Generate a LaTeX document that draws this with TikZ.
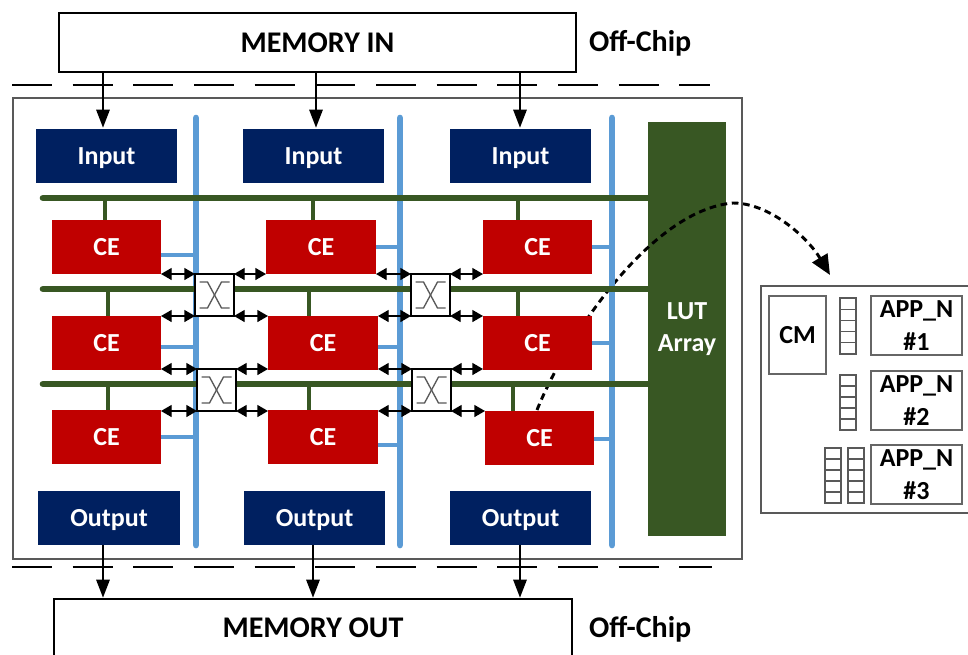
\documentclass[tikz,border=0pt]{standalone}
\usepackage{fontspec}
\setmainfont{Carlito}
\usetikzlibrary{arrows.meta,positioning}
\definecolor{navy}{HTML}{002060}
\definecolor{cered}{HTML}{C00000}
\definecolor{lutgreen}{HTML}{385723}
\definecolor{busblue}{HTML}{5B9BD5}
\newcommand{\bx}[7]{\node[#6,minimum width={(#4-#2)*0.75pt},minimum height={(#5-#3)*0.75pt}] (#1) at ({(#2+#4)/2},{(#3+#5)/2}) {#7};}
\tikzset{
 x=0.75pt,y=-0.75pt,
 every node/.style={inner sep=0pt,outer sep=0pt,font=\bfseries\fontsize{19.5}{24.5}\selectfont},
 bigfont/.style={font=\bfseries\fontsize{22.5}{26}\selectfont},
 capcentre/.style={text height=12.6pt,text depth=0pt},
 bigcentre/.style={text height=14.5pt,text depth=0pt},
 membox/.style={draw=black,line width=1.7pt,fill=white},
 iobox/.style={fill=navy,text=white,capcentre},
 cebox/.style={fill=cered,text=white,capcentre},
 lutbox/.style={fill=lutgreen,text=white,align=center},
 whitebox/.style={draw=black!60,line width=0.9pt,fill=white,align=center},
 swbox/.style={draw=black,line width=1pt,fill=white},
 cellbox/.style={draw=black!65,line width=0.8pt,fill=white},
 blubus/.style={draw=busblue,line width=5pt,line cap=round},
 blustub/.style={draw=busblue,line width=3pt},
 grnbus/.style={draw=lutgreen,line width=5pt,line cap=round},
 grnstub/.style={draw=lutgreen,line width=3.5pt},
 memarrow/.style={draw=black,line width=1.5pt,-{Stealth[inset=0pt,length=13.5pt,width=10pt]},shorten >=1pt},
 dbl/.style={draw=black,line width=1pt,{Stealth[inset=0pt,length=8pt,width=9pt]}-{Stealth[inset=0pt,length=8pt,width=9pt]}},
 chipline/.style={draw=black,line width=1.5pt,dash pattern=on 30pt off 15.5pt},
 offlabel/.style={anchor=west,text=black,bigfont},
 curvearrow/.style={draw=black,line width=2.2pt,dash pattern=on 5pt off 3.5pt,-{Stealth[inset=0pt,length=15pt,width=13pt]}},
}
\newcommand{\stackcells}[5]{%
 \foreach \k in {0,...,4}{\node[cellbox,minimum width={(#3-#2)*0.75pt},minimum height={(#5-#4)*0.15pt}] (#1-\k) at ({(#2+#3)/2},{#4+(\k+0.5)*(#5-#4)/5}) {};}}
\begin{document}
\begin{tikzpicture}
\useasboundingbox (0,0) rectangle (968,654);
\fill[white] (0,0) rectangle (968,654);
% main box
\bx{chip}{13}{98}{742}{559}{draw=black!65,line width=1pt,fill=white}{}
% memories
\bx{memin}{59}{13}{576}{72}{membox,bigfont,bigcentre}{MEMORY IN}
\bx{memout}{54}{599}{572}{670}{membox}{}
\node[bigfont,bigcentre] at (313,628) (memoutlabel) {MEMORY OUT};
\node[offlabel,bigcentre] (off1) at (589,42) {Off-Chip};
\node[offlabel,bigcentre] (off2) at (589,628) {Off-Chip};
% dashed
\coordinate (d1l) at (12,85); \coordinate (d1r) at (710,85);
\coordinate (d2l) at (12,567); \coordinate (d2r) at (712,567);
\draw[chipline] (d1l) -- (d1r);
\draw[chipline] (d2l) -- (d2r);
% IO
\bx{in1}{36}{129}{177}{183}{iobox}{Input}
\bx{in2}{243}{129}{384}{183}{iobox}{Input}
\bx{in3}{450}{129}{591}{183}{iobox}{Input}
\bx{out1}{38}{491}{180}{545}{iobox}{Output}
\bx{out2}{244}{491}{385}{545}{iobox}{Output}
\bx{out3}{450}{491}{591}{545}{iobox}{Output}
\bx{lut}{648}{122}{726}{536}{lutbox}{LUT\\Array}
% dashed curve, above the LUT array and below the buses and CE boxes
\coordinate (cs) at (537,410);
\coordinate (cm) at (733,203);
\coordinate (ct) at (830,275);
\draw[curvearrow] (cs) .. controls (565,340) and (650,210) .. (cm) .. controls (770,203) and (808,238) .. (ct);
% CE
\bx{c11}{52}{220}{161}{274}{cebox}{CE}
\bx{c12}{266}{220}{376}{274}{cebox}{CE}
\bx{c13}{483}{220}{592}{274}{cebox}{CE}
\bx{c21}{52}{316}{161}{370}{cebox}{CE}
\bx{c22}{268}{316}{378}{370}{cebox}{CE}
\bx{c23}{483}{316}{592}{370}{cebox}{CE}
\bx{c31}{52}{410}{161}{464}{cebox}{CE}
\bx{c32}{268}{410}{378}{464}{cebox}{CE}
\bx{c33}{485}{411}{594}{465}{cebox}{CE}
% memory arrows
\coordinate (a1) at (103,72); \coordinate (a2) at (316,72); \coordinate (a3) at (520,72);
\draw[memarrow] (a1) -- (a1 |- in1.north);
\draw[memarrow] (a2) -- (a2 |- in2.north);
\draw[memarrow] (a3) -- (a3 |- in3.north);
\coordinate (b1) at (103,559); \coordinate (b2) at (313,559); \coordinate (b3) at (520,559);
\draw[memarrow] (b1 |- out1.south) -- (b1 |- memout.north);
\draw[memarrow] (b2 |- out2.south) -- (b2 |- memout.north);
\draw[memarrow] (b3 |- out3.south) -- (b3 |- memout.north);
% blue buses
\coordinate (bb1) at (196,118); \coordinate (bb2) at (400,118); \coordinate (bb3) at (612,118);
\draw[blubus] (bb1) -- (196,545);
\draw[blubus] (bb2) -- (400,545);
\draw[blubus] (bb3) -- (612,545);
% green buses
\coordinate (g1) at (43,198); \coordinate (g2) at (43,289); \coordinate (g3) at (43,384);
\draw[grnbus] (g1) -- (g1 -| lut.west);
\draw[grnbus] (g2) -- (g2 -| lut.west);
\draw[grnbus] (g3) -- (g3 -| lut.west);
% green taps
\foreach \n/\x/\g in {c11/105/g1,c12/313/g1,c13/518/g1,c21/108/g2,c22/309/g2,c23/518/g2,c31/108/g3,c32/309/g3,c33/513/g3}{
 \draw[grnstub] (\x,0 |- \g) -- (\x,0 |- \n.north);
}
% blue stubs
\foreach \n/\y/\b in {c11/255/bb1,c21/347/bb1,c31/437/bb1,c12/247/bb2,c22/347/bb2,c32/445/bb2,c13/247/bb3,c23/343/bb3,c33/439/bb3}{
 \draw[blustub] (\n.east |- 0,\y) -- (\b |- 0,\y);
}
% switches
\bx{s11}{195}{274}{234}{316}{swbox}{}
\bx{s21}{197}{369}{236}{411}{swbox}{}
\bx{s12}{411}{274}{450}{316}{swbox}{}
\bx{s22}{412}{369}{451}{411}{swbox}{}
\foreach \s in {s11,s21,s12,s22}{
 \draw[black!65,line width=1pt] ([shift={(-15,-13)}]\s.center) -- ++(8,0) -- ++(14,26) -- ++(8,0);
 \draw[black!65,line width=1pt] ([shift={(15,-13)}]\s.center) -- ++(-8,0) -- ++(-14,26) -- ++(-8,0);
}
% double arrows
\foreach \s/\l/\r in {s11/c11/c12,s21/c21/c22,s12/c12/c13,s22/c22/c23}{
 \draw[dbl] (\l.east |- \s.north west) -- (\s.north west);
 \draw[dbl] (\s.north east) -- (\r.west |- \s.north east);
}
\foreach \s/\l/\r in {s11/c21/c22,s21/c31/c32,s12/c22/c23,s22/c32/c33}{
 \draw[dbl] (\l.east |- \s.south west) -- (\s.south west);
 \draw[dbl] (\s.south east) -- (\r.west |- \s.south east);
}
% app panel
\bx{panel}{761}{286}{990}{513}{draw=black!65,line width=1pt,fill=white}{}
\bx{cm}{769}{296}{826}{374}{whitebox,capcentre}{CM}
\bx{app1}{871}{296}{962}{355}{whitebox}{APP\_N\\\#1}
\bx{app2}{871}{371}{962}{430}{whitebox}{APP\_N\\\#2}
\bx{app3}{871}{445}{962}{504}{whitebox}{APP\_N\\\#3}
\stackcells{q1}{840}{856}{298}{354}
\stackcells{q2}{840}{856}{375}{430}
\stackcells{q3}{825}{841}{448}{503}
\stackcells{q4}{848}{864}{448}{503}
\end{tikzpicture}
\end{document}
